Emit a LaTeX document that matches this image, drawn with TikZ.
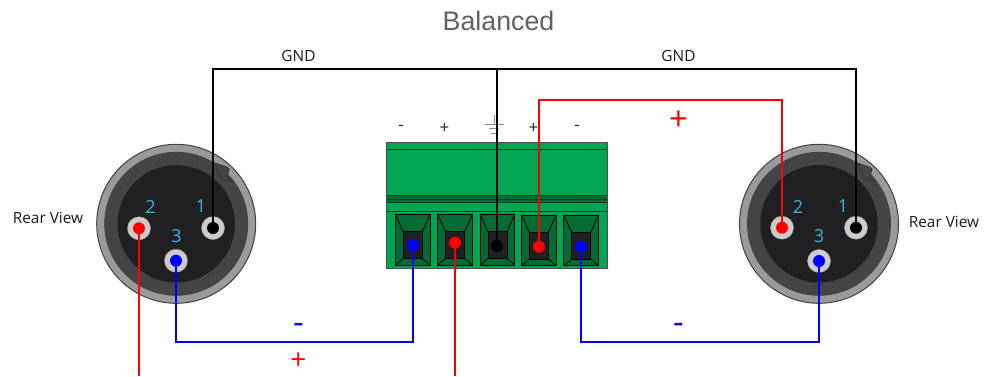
\documentclass[tikz,border=0pt]{standalone}
\usepackage{fontspec}
\setmainfont{Open Sans}
\newfontfamily\titlefont{Liberation Sans}
\usetikzlibrary{calc}
\definecolor{ring}{HTML}{9A9A9A}
\definecolor{rimdark}{HTML}{444547}
\definecolor{coredark}{HTML}{202022}
\definecolor{pinring}{HTML}{CFCBCB}
\definecolor{pincyan}{HTML}{35B5E5}
\definecolor{blockgreen}{HTML}{00A651}
\definecolor{darkgreen}{HTML}{056B35}
\definecolor{linegreen}{HTML}{0A3D20}
\definecolor{gndgrey}{HTML}{8A8A8A}
\tikzset{
  wireblack/.style={draw=black,line width=1.5pt},
  wirered/.style={draw=red,line width=1.5pt},
  wireblue/.style={draw=blue,line width=1.5pt},
  pinbase/.style={circle,fill=pinring,draw=gray!70!white,line width=.4pt,minimum size=23pt,inner sep=0pt},
  dot/.style={circle,minimum size=#1,inner sep=0pt},
  pinnum/.style={text=pincyan,font=\fontsize{18}{18}\selectfont,inner sep=0pt},
  lab/.style={font=\fontsize{15.4}{15.4}\selectfont,inner sep=0pt,text=black!90},
  sign/.style={font=\fontsize{17}{17}\selectfont,inner sep=0pt,text=black!85,anchor=base},
  bigsign/.style={font=\fontsize{33}{33}\selectfont,inner sep=0pt,anchor=base},
  blockline/.style={draw=linegreen,line width=.9pt},
  sockline/.style={draw=black,line width=.8pt},
}
\newcommand{\xlrbody}[1]{
  \fill[ring,draw=black!75,line width=1pt] (#1) circle[radius=79.5];
  \fill[rimdark,draw=black!75,line width=.8pt] (#1) circle[radius=71.5];
  \fill[rimdark,draw=black!80,line width=.7pt] ($(#1)+(38,-61)$) -- ($(#1)+(50,-57)$) -- ($(#1)+(53,-55)$) -- ($(#1)+(51,-47)$) -- ($(#1)+(56,-42)$) -- ($(#1)+(45,-45)$) -- cycle;
  \fill[coredark] (#1) circle[radius=58.7];
}
\newcommand{\socket}[2]{
  \begin{scope}[shift={(#1,#2)}]
    \fill[darkgreen,sockline] (0,0) rectangle (34.7,50.7);
    \fill[coredark,sockline] (8,17.3) rectangle (27,44);
    \draw[sockline] (0,0) -- (8,17.3) (34.7,0) -- (27,17.3) (0,50.7) -- (8,44) (34.7,50.7) -- (27,44);
  \end{scope}
}
\begin{document}
\begin{tikzpicture}[x=1pt,y=-1pt]
\useasboundingbox (0,0) rectangle (990,376);
\fill[white] (0,0) rectangle (990,376);

\node[font=\titlefont\fontsize{26.8}{26.8}\selectfont,text=black!62,inner sep=0pt] (title) at (498.5,21) {Balanced};

\coordinate (cL) at (176.2,223.8);
\coordinate (cR) at (819,223.8);
\coordinate (gndL) at (213,69);
\coordinate (gndR) at (856,69);
\coordinate (gndC) at (497,69);
\coordinate (redEndL) at (139,376);
\coordinate (redEndC) at (455,376);

\xlrbody{cL}
\xlrbody{cR}

\fill[blockgreen,draw=black!70,line width=.9pt] (386.9,142.8) rectangle (607.3,268.3);
\fill[darkgreen] (387.3,196) rectangle (606.9,202.2);
\draw[blockline] (386.9,149.5) -- (607.3,149.5);
\draw[blockline] (386.9,195.8) -- (607.3,195.8);
\draw[blockline] (386.9,199.2) -- (607.3,199.2);
\draw[blockline] (386.9,202.3) -- (607.3,202.3);
\draw[blockline] (386.9,211.8) -- (607.3,211.8);
\socket{395.3}{214.4}
\socket{437.6}{214.4}
\socket{480}{214.4}
\socket{521.4}{215}
\socket{563.8}{215}

\node[pinbase] (p1L) at (213,228) {};
\node[pinbase] (p2L) at (139,228.3) {};
\node[pinbase] (p3L) at (176,260.7) {};
\node[pinbase] (p1R) at (856,227.7) {};
\node[pinbase] (p2R) at (782,227.7) {};
\node[pinbase] (p3R) at (819,261) {};

\node[dot=11pt] (tB1) at (413,245.3) {};
\node[dot=11pt] (tR1) at (455,242.7) {};
\node[dot=11pt] (tG) at (497,246) {};
\node[dot=11pt] (tR2) at (539,246.7) {};
\node[dot=11pt] (tB2) at (581,246.7) {};

\coordinate (gs) at (494,124);
\draw[gndgrey,line width=.7pt] ($(gs)+(0,-9.5)$) -- (gs) ($(gs)+(-9.5,0)$) -- ($(gs)+(9.5,0)$)
  ($(gs)+(-5,4.5)$) -- ($(gs)+(5,4.5)$) ($(gs)+(-3,9)$) -- ($(gs)+(3,9)$);

\draw[wireblack] (p1L.center) -- (gndL) -- (gndR) -- (p1R.center);
\draw[wireblack] (gndC) -- (tG.center);
\draw[wirered] (tR2.center) |- (p2R.center |- 0,100) -- (p2R.center);
\draw[wirered] (p2L.center) -- (redEndL);
\draw[wirered] (tR1.center) -- (redEndC);
\draw[wireblue] (p3L.center) |- (tB1.center |- 0,342) -- (tB1.center);
\draw[wireblue] (tB2.center) |- (p3R.center |- 0,342) -- (p3R.center);

\foreach \n/\c in {p1L/black,p2L/red,p3L/blue,p1R/black,p2R/red,p3R/blue,tB1/blue,tR1/red,tG/black,tR2/red,tB2/blue}
  \fill[\c] (\n.center) circle[radius=6];

\node[pinnum] (n1L) at (201,206.5) {1};
\node[pinnum] (n2L) at (150.5,207) {2};
\node[pinnum] (n3L) at (176.5,236) {3};
\node[pinnum] (n1R) at (843,206.5) {1};
\node[pinnum] (n2R) at (798,206.5) {2};
\node[pinnum] (n3R) at (819,236) {3};

\node[lab] (rvL) at (48,218) {Rear View};
\node[lab] (rvR) at (944,222) {Rear View};
\node[lab] (g1) at (298.5,55.5) {GND};
\node[lab] (g2) at (678.5,55.5) {GND};
\node[sign] (s1) at (401,130) {-};
\node[sign] (s2) at (444.5,133) {+};
\node[sign] (s3) at (533.5,133) {+};
\node[sign] (s4) at (577,130) {-};
\node[bigsign,text=red] (rp1) at (678.5,130) {+};
\node[bigsign,text=red,font=\fontsize{28}{28}\selectfont] (rp2) at (298.5,369.5) {+};
\node[bigsign,text=blue] (bm1) at (298.5,333.5) {-};
\node[bigsign,text=blue] (bm2) at (678.5,333) {-};
\end{tikzpicture}
\end{document}
